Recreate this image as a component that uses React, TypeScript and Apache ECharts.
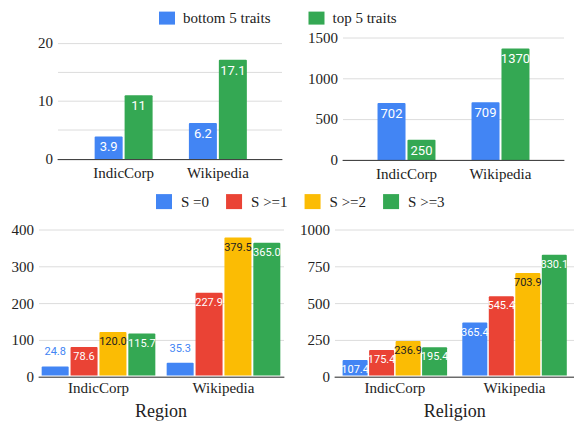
import React, { useEffect, useRef } from "react";
import * as echarts from "echarts";

// ---------- data ----------
const categories = ["IndicCorp", "Wikipedia"];

const traitSeriesNames = ["bottom 5 traits", "top 5 traits"];
const countBottom5 = [3.9, 6.2];
const countTop5 = [11, 17.1];
const sizeBottom5 = [702, 709];
const sizeTop5 = [250, 1370];

const sSeriesNames = ["S =0", "S >=1", "S >=2", "S >=3"];
const regionS0 = [24.8, 35.3];
const regionS1 = [78.6, 227.9];
const regionS2 = [120.0, 379.5];
const regionS3 = [115.7, 365.0];
const religionS0 = [107.4, 365.4];
const religionS1 = [175.4, 545.4];
const religionS2 = [236.9, 703.9];
const religionS3 = [195.4, 830.1];

const countAxis = { max: 20, interval: 5, labelStep: 10 };
const sizeAxis = { max: 1500, interval: 500, labelStep: 500 };
const regionAxis = { max: 400, interval: 100, labelStep: 100 };
const religionAxis = { max: 1000, interval: 250, labelStep: 250 };

const BLUE = "#4285F4";
const RED = "#EA4335";
const YELLOW = "#FBBC04";
const GREEN = "#34A853";
const SERIF = "Liberation Serif";
const SANS = "Roboto";

// the chart is drawn at a larger internal scale and shrunk with CSS
const S = 1.25;
const W = 574;
const H = 421;
const p = (v: number) => v * S;

export default function App() {
  const ref = useRef<HTMLDivElement>(null);

  useEffect(() => {
    if (!ref.current) return;
    const chart = echarts.init(ref.current, undefined, { renderer: "svg" });

    const layouts = [
      { line: { left: 58, width: 224, top: 43, height: 116 }, bar: { left: 76.5, width: 188.5 }, axis: countAxis, name: "" },
      { line: { left: 343, width: 221, top: 38, height: 122 }, bar: { left: 359.5, width: 188 }, axis: sizeAxis, name: "" },
      { line: { left: 39, width: 245, top: 230, height: 147 }, bar: { left: 36, width: 250 }, axis: regionAxis, name: "Region" },
      { line: { left: 335, width: 239, top: 230, height: 147 }, bar: { left: 335, width: 242 }, axis: religionAxis, name: "Religion" },
    ];

    const serifText = { fontFamily: SERIF, fontSize: p(15), color: "#222" };

    const grids: any[] = [];
    const xAxes: any[] = [];
    const yAxes: any[] = [];
    layouts.forEach((l, k) => {
      grids.push({ left: p(l.line.left), width: p(l.line.width), top: p(l.line.top), height: p(l.line.height) });
      grids.push({ left: p(l.bar.left), width: p(l.bar.width), top: p(l.line.top), height: p(l.line.height) });
      xAxes.push({
        type: "category",
        gridIndex: 2 * k,
        data: [""],
        axisLine: { show: true, lineStyle: { color: "#333", width: p(1) } },
        axisTick: { show: false },
        axisLabel: { show: false },
        z: 5,
      });
      xAxes.push({
        type: "category",
        gridIndex: 2 * k + 1,
        data: categories,
        axisLine: { show: false },
        axisTick: { show: false },
        axisLabel: { ...serifText, margin: p(k < 2 ? 6 : 5) },
        name: l.name,
        nameLocation: "middle",
        nameGap: p(26),
        nameTextStyle: { fontFamily: SERIF, fontSize: p(18), color: "#222" },
      });
      yAxes.push({
        type: "value",
        gridIndex: 2 * k,
        min: 0,
        max: l.axis.max,
        interval: l.axis.interval,
        axisLine: { show: false },
        axisTick: { show: false },
        axisLabel: {
          ...serifText,
          margin: p(5),
          formatter: (v: number) => (v % l.axis.labelStep === 0 ? String(v) : ""),
        },
        splitLine: { lineStyle: { color: "#dcdcdc", width: p(1) } },
      });
      yAxes.push({
        type: "value",
        gridIndex: 2 * k + 1,
        min: 0,
        max: l.axis.max,
        show: false,
      });
    });

    const makeSeries = (
      name: string,
      values: number[],
      color: string,
      k: number,
      max: number,
      fmt: (v: number) => string,
      fontSize: number,
      barWidth: number,
      barGap: string,
      dark: boolean
    ) => ({
      type: "bar",
      name,
      xAxisIndex: 2 * k + 1,
      yAxisIndex: 2 * k + 1,
      barWidth: p(barWidth),
      barGap,
      itemStyle: { color, borderRadius: [p(1), p(1), 0, 0] },
      data: values.map((v) => {
        const outside = v / max < 0.1;
        return {
          value: v,
          label: {
            show: true,
            position: outside ? "top" : "insideTop",
            distance: p(outside ? 9 : 4),
            color: outside ? color : dark ? "#222" : "#fff",
            fontFamily: SANS,
            fontSize: p(fontSize),
            formatter: () => fmt(v),
          },
        };
      }),
    });

    const raw = (v: number) => String(v);
    const one = (v: number) => v.toFixed(1);

    const series: any[] = [
      makeSeries(traitSeriesNames[0], countBottom5, BLUE, 0, countAxis.max, raw, 13, 28, "7%", false),
      makeSeries(traitSeriesNames[1], countTop5, GREEN, 0, countAxis.max, raw, 13, 28, "7%", false),
      makeSeries(traitSeriesNames[0], sizeBottom5, BLUE, 1, sizeAxis.max, raw, 13, 28, "7%", false),
      makeSeries(traitSeriesNames[1], sizeTop5, GREEN, 1, sizeAxis.max, raw, 13, 28, "7%", false),
      makeSeries(sSeriesNames[0], regionS0, BLUE, 2, regionAxis.max, one, 11, 27, "7%", false),
      makeSeries(sSeriesNames[1], regionS1, RED, 2, regionAxis.max, one, 11, 27, "7%", false),
      makeSeries(sSeriesNames[2], regionS2, YELLOW, 2, regionAxis.max, one, 11, 27, "7%", true),
      makeSeries(sSeriesNames[3], regionS3, GREEN, 2, regionAxis.max, one, 11, 27, "7%", false),
      makeSeries(sSeriesNames[0], religionS0, BLUE, 3, religionAxis.max, one, 11, 25, "6%", false),
      makeSeries(sSeriesNames[1], religionS1, RED, 3, religionAxis.max, one, 11, 25, "6%", false),
      makeSeries(sSeriesNames[2], religionS2, YELLOW, 3, religionAxis.max, one, 11, 25, "6%", true),
      makeSeries(sSeriesNames[3], religionS3, GREEN, 3, religionAxis.max, one, 11, 25, "6%", false),
    ];

    chart.setOption({
      animation: false,
      legend: [
        {
          data: traitSeriesNames,
          left: p(155),
          top: p(6.5),
          itemWidth: p(16),
          itemHeight: p(13),
          itemGap: p(38),
          icon: "rect",
          selectedMode: false,
          textStyle: { ...serifText, padding: [0, 0, 0, p(4)] },
        },
        {
          data: sSeriesNames,
          left: p(152),
          top: p(190),
          itemWidth: p(16),
          itemHeight: p(15),
          itemGap: p(17),
          icon: "rect",
          selectedMode: false,
          textStyle: { ...serifText, padding: [0, 0, 0, p(5)] },
        },
      ],
      grid: grids,
      xAxis: xAxes,
      yAxis: yAxes,
      series,
    });

    return () => chart.dispose();
  }, []);

  return (
    <div style={{ position: "fixed", left: 0, top: 0, width: W, height: H, overflow: "hidden", background: "#fff" }}>
      <div
        ref={ref}
        style={{
          width: W * S,
          height: H * S,
          transform: `scale(${1 / S})`,
          transformOrigin: "0 0",
        }}
      />
    </div>
  );
}
